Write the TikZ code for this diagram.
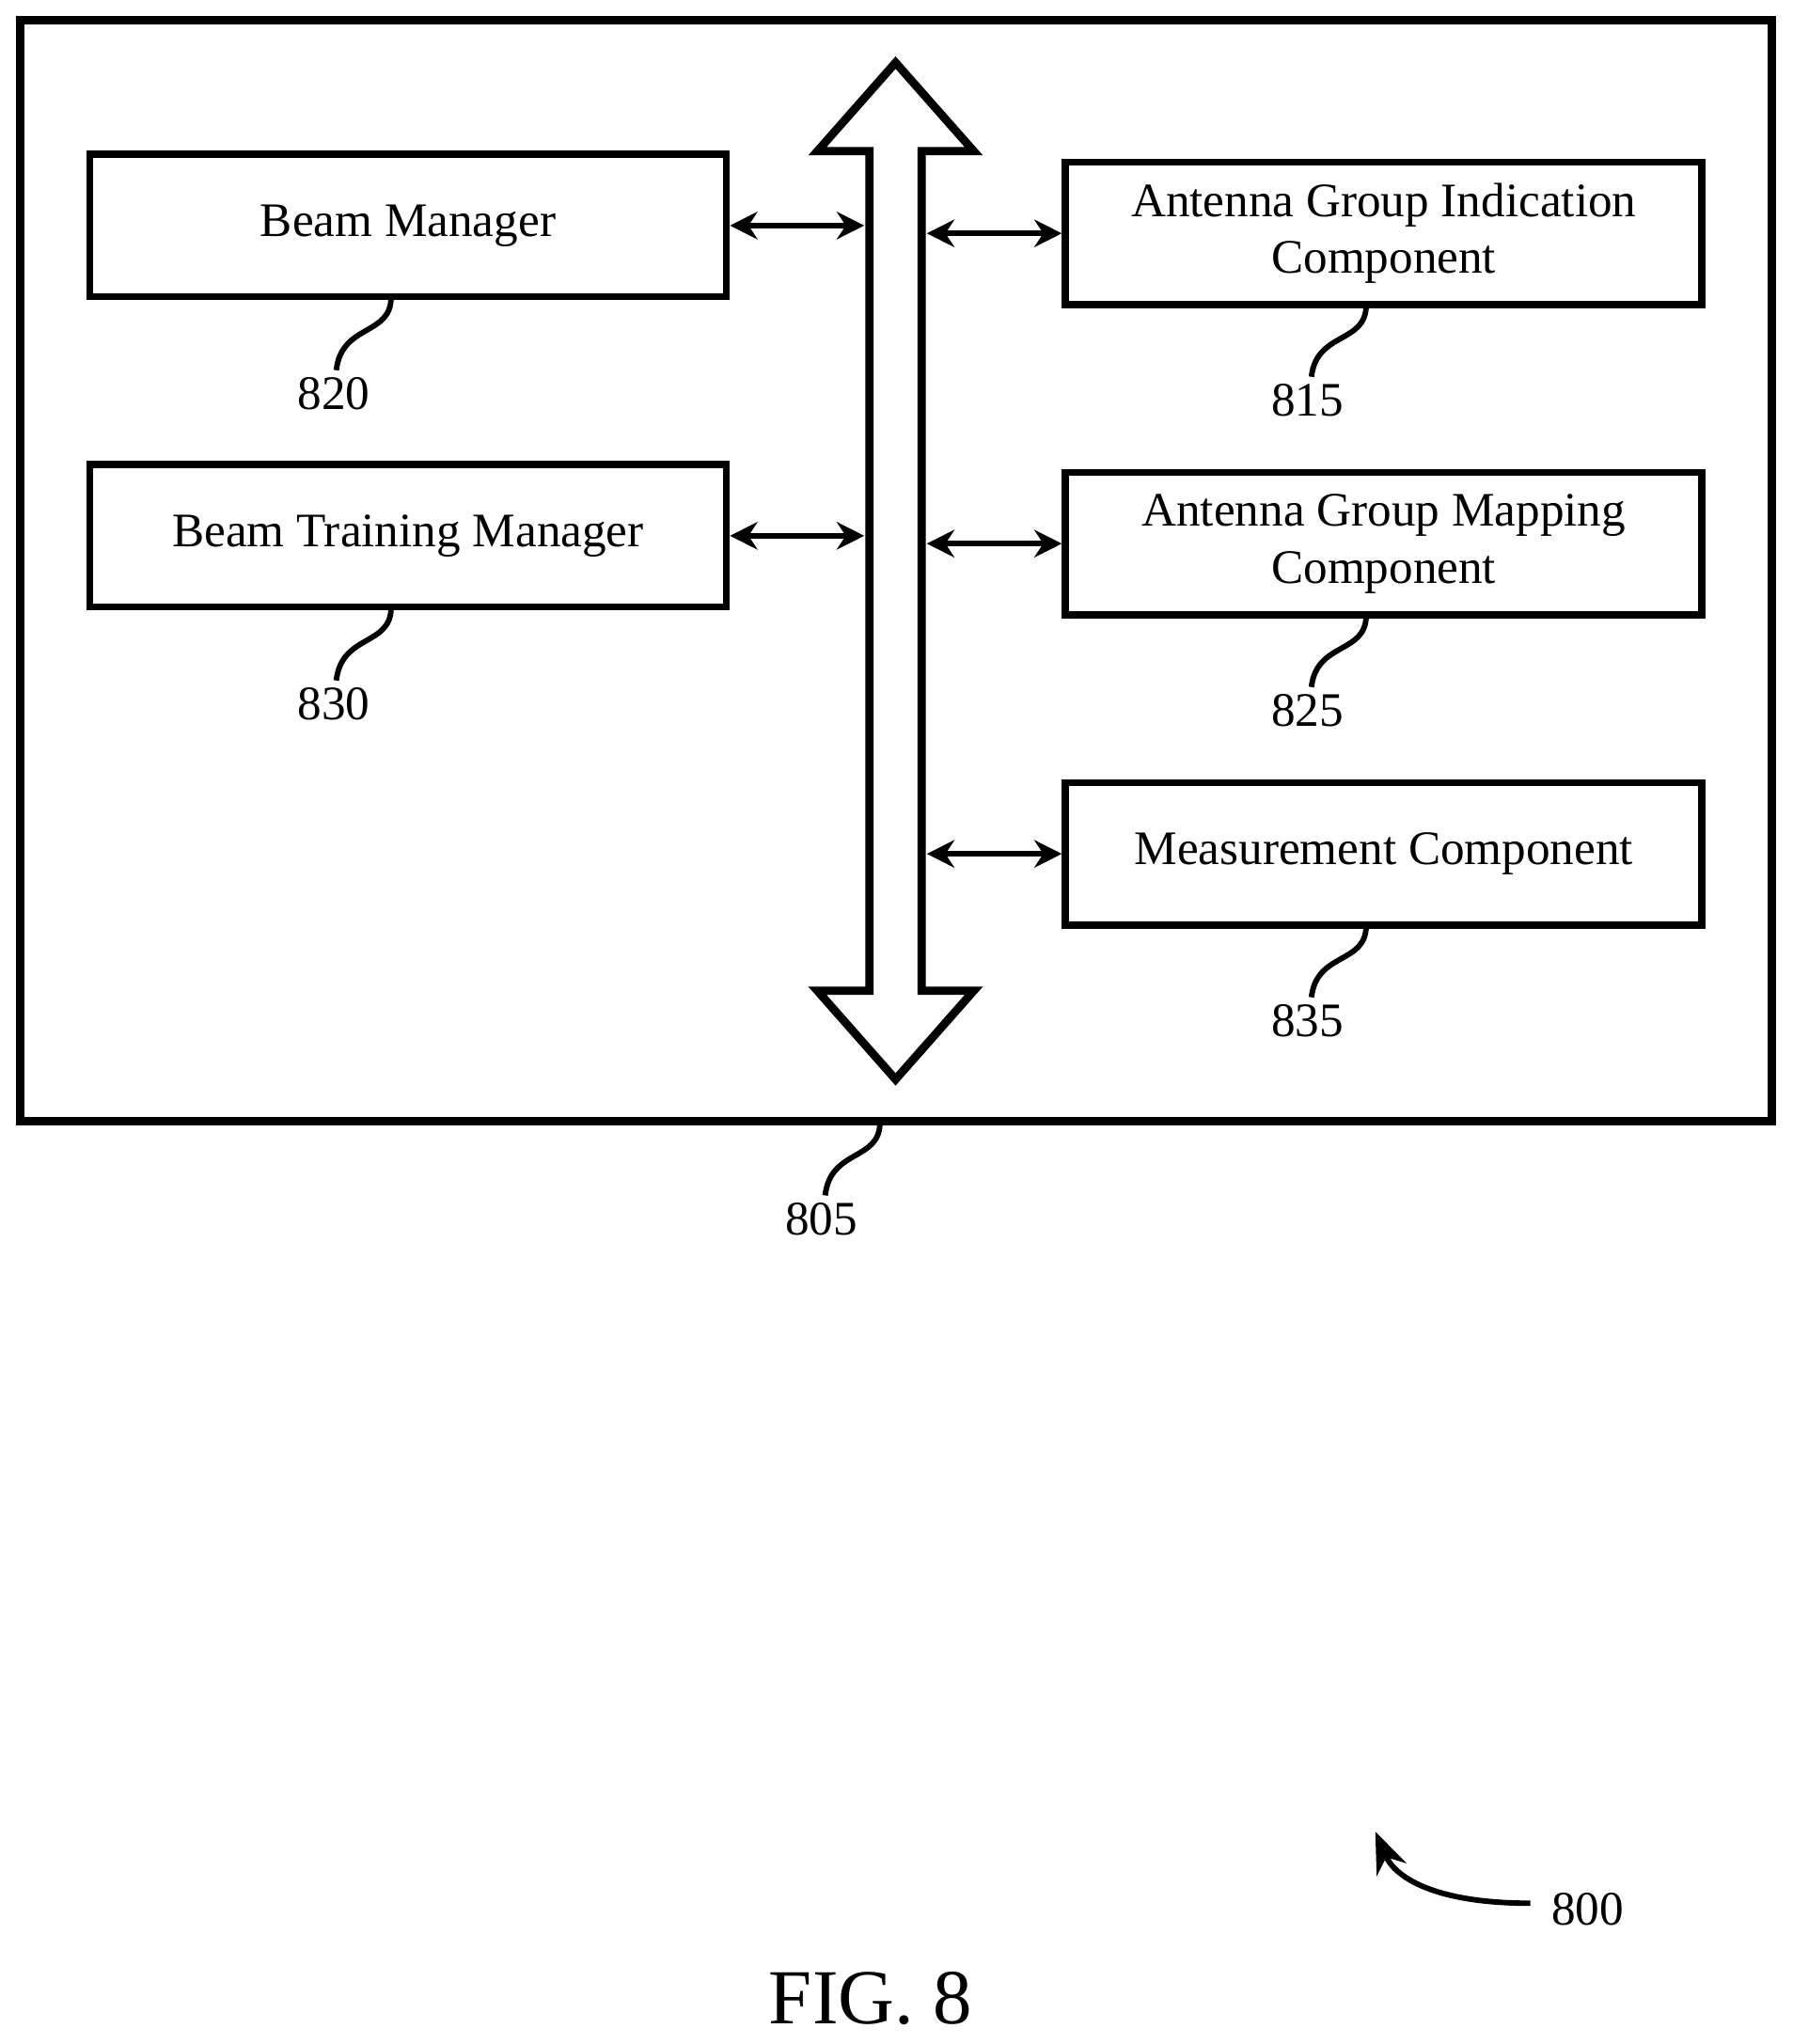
\documentclass[tikz,border=0pt]{standalone}
\usepackage{fontspec}
\setmainfont{Liberation Serif}
\usetikzlibrary{arrows.meta}
\tikzset{
  block/.style={rectangle, draw=black, line width=1.6pt, minimum width=4.88cm, minimum height=1.09cm, align=center, font=\fontsize{10.5}{12.5}\selectfont},
  refnum/.style={font=\fontsize{10.5}{12.5}\selectfont},
  link/.style={line width=1.2pt, {Stealth[length=6pt,width=6pt]}-{Stealth[length=6pt,width=6pt]}},
  lead/.style={line width=1.2pt}
}
\begin{document}
\begin{tikzpicture}[x=0.01cm,y=-0.01cm]
\useasboundingbox (0,0) rectangle (1375,1568);

% Outer frame and bus
\node (frame) at (687.5,438) [rectangle, draw=black, line width=1.8pt, minimum width=13.43cm, minimum height=8.44cm] {};
\draw [line width=1.8pt, line join=miter] (687,48) -- (747,116) -- (707,116) -- (707,760) -- (747,760) -- (687,828)
  -- (627,760) -- (667,760) -- (667,116) -- (627,116) -- cycle;

% Nodes
\node (beam) at (313,173) [block] {Beam Manager};
\node (train) at (313,411) [block] {Beam Training Manager};
\node (indic) at (1061.5,179) [block] {Antenna Group Indication\\Component};
\node (mapping) at (1061.5,417) [block] {Antenna Group Mapping\\Component};
\node (meas) at (1061.5,655) [block] {Measurement Component};

\coordinate (busL1) at (663,173);
\coordinate (busL2) at (663,411);
\coordinate (busR1) at (711,179);
\coordinate (busR2) at (711,417);
\coordinate (busR3) at (711,655);

% Arrows
\draw [link] (beam.east |- busL1) -- (busL1);
\draw [link] (train.east |- busL2) -- (busL2);
\draw [link] (busR1) -- (indic.west |- busR1);
\draw [link] (busR2) -- (mapping.west |- busR2);
\draw [link] (busR3) -- (meas.west |- busR3);

% Reference numerals
\node (n820) at (256,302) [refnum] {820};
\node (n830) at (256,540) [refnum] {830};
\node (n815) at (1003,307) [refnum] {815};
\node (n825) at (1003,545) [refnum] {825};
\node (n835) at (1003,783) [refnum] {835};
\node (n805) at (630,935) [refnum] {805};
\node (n800) at (1218,1465) [refnum] {800};
\node (fig) at (668,1533) [font=\fontsize{17}{20}\selectfont] {FIG. 8};

\draw [lead] (300,228) .. controls (300,258) and (262,248) .. (258,284);
\draw [lead] (300,466) .. controls (300,496) and (262,486) .. (258,522);
\draw [lead] (1048,234) .. controls (1048,264) and (1010,254) .. (1006,289);
\draw [lead] (1048,472) .. controls (1048,502) and (1010,492) .. (1006,527);
\draw [lead] (1048,710) .. controls (1048,740) and (1010,730) .. (1006,765);
\draw [lead] (675,861) .. controls (675,891) and (637,881) .. (633,917);
\draw [lead, -{Stealth[length=9pt,width=7pt]}] (n800.west) ++(-4,-5) .. controls (1100,1460) and (1070,1440) .. (1055,1405);
\end{tikzpicture}
\end{document}
